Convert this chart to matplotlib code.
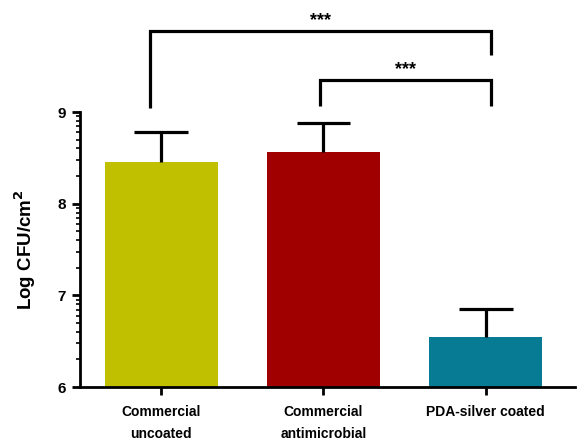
import numpy as np
import matplotlib
matplotlib.use('Agg')
import matplotlib.pyplot as plt
from matplotlib.ticker import FixedLocator

# data
groups = ['Commercial\nuncoated', 'Commercial\nantimicrobial', 'PDA-silver coated']
means = [8.45, 8.56, 6.55]
errs = [0.33, 0.32, 0.30]
colors = ['#c0c000', '#a00000', '#077a94']

# significance brackets: (left group, right group, bracket y, left leg y, right leg y, label)
brackets = [
    (0, 2, 9.88, 9.04, 9.62, '***'),
    (1, 2, 9.35, 9.07, 9.07, '***'),
]

plt.rcParams['font.family'] = ['Liberation Sans', 'DejaVu Sans']
plt.rcParams['font.weight'] = 'bold'

fig = plt.figure(figsize=(5.77, 4.42), dpi=100)
ax = fig.add_axes([0.1386, 0.1244, 0.858, 0.6222])

x = np.arange(len(groups))
tops = np.array(means) + np.array(errs)
ax.bar(x, means, width=0.695, color=colors, zorder=2)
# upper-only error bars with caps
ax.vlines(x, means, tops, color='black', lw=2.3, zorder=3)
ax.hlines(tops, x - 0.165, x + 0.165, color='black', lw=2.3, zorder=3)

ax.set_ylim(6, 9)
ax.set_xlim(-0.5, 2.55)

# log-style minor ticks in each decade, like the original
minor = []
for base in [6, 7, 8]:
    minor += list(base + np.log10(np.arange(2, 10)))
ax.yaxis.set_major_locator(FixedLocator([6, 7, 8, 9]))
ax.yaxis.set_minor_locator(FixedLocator(minor))
ax.tick_params(axis='y', which='major', length=6, width=2, labelsize=11, pad=4)
ax.tick_params(axis='y', which='minor', length=3, width=1.2)

ax.set_xticks(x)
ax.set_xticklabels(groups, fontsize=10, fontweight='bold', linespacing=1.75)
ax.tick_params(axis='x', which='major', length=6, width=2, pad=7)

for side in ['top', 'right']:
    ax.spines[side].set_visible(False)
for side in ['left', 'bottom']:
    ax.spines[side].set_linewidth(2)

ax.set_ylabel('Log CFU/cm$^{\\mathbf{2}}$', fontsize=13.5, fontweight='bold', labelpad=14)

for i, j, yb, yl, yr, lab in brackets:
    xl = x[i] - 0.07 if i == 0 else x[i] - 0.02
    xr = x[j] + 0.03
    ax.plot([xl, xl, xr, xr], [yl, yb, yb, yr], color='black', lw=2.3,
            clip_on=False, solid_capstyle='butt', solid_joinstyle='miter')
    ax.text((xl + xr) / 2, yb + 0.02, lab, ha='center', va='bottom',
            fontsize=13, fontweight='bold')

fig.savefig('out.png', dpi=100)
